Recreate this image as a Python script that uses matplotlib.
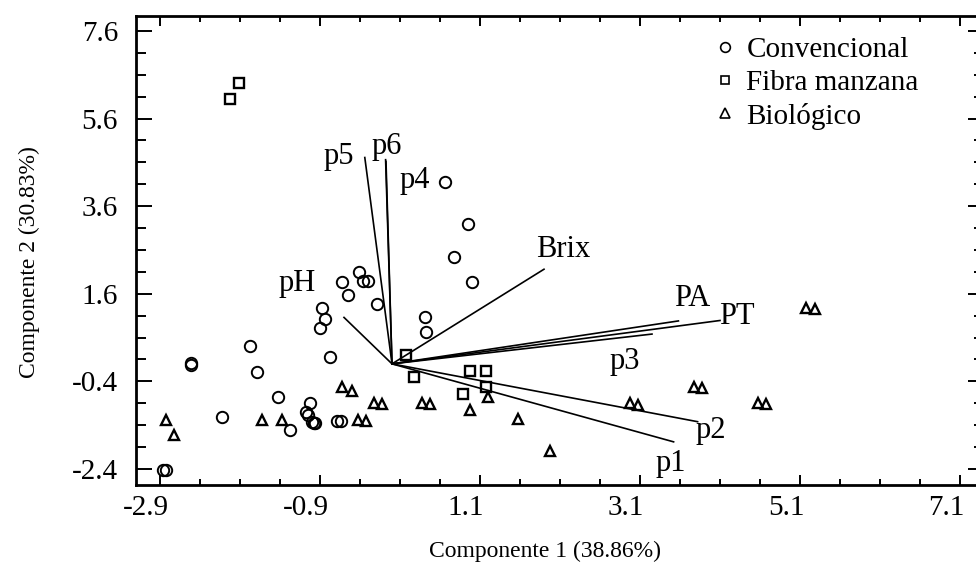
import matplotlib
matplotlib.use("Agg")
import matplotlib.pyplot as plt
import matplotlib.transforms as mtransforms
from matplotlib.lines import Line2D
import numpy as np

plt.rcParams['font.family'] = ['Liberation Serif', 'DejaVu Serif']
plt.rcParams['axes.unicode_minus'] = False

# Puntuaciones de las muestras (Componente 1, Componente 2)
conv_x = [0.66, 0.95, 0.78, 1.00, -0.41, -0.62, -0.36, -0.30, -0.55, -0.19,
          -0.87, -0.84, -0.90, 0.41, 0.43, -0.78, -1.78, -2.51, -2.51, -1.69,
          -1.42, -2.12, -1.03, -1.07, -1.05, -1.00, -0.98, -0.96, -1.28,
          -0.69, -0.64, -2.86, -2.82]
conv_y = [4.16, 3.19, 2.45, 1.86, 2.10, 1.86, 1.90, 1.90, 1.57, 1.37,
          1.27, 1.02, 0.81, 1.06, 0.73, 0.15, 0.40, 0.02, -0.03, -0.19,
          -0.76, -1.22, -0.89, -1.09, -1.17, -1.32, -1.36, -1.34, -1.52,
          -1.30, -1.30, -2.42, -2.42]

fibra_x = [-2.02, -1.91, 0.18, 0.27, 0.98, 1.18, 1.18, 0.89]
fibra_y = [6.05, 6.41, 0.20, -0.31, -0.16, -0.16, -0.52, -0.69]

bio_x = [-2.82, -2.73, -1.62, -1.37, -0.62, -0.50, -0.43, -0.32, -0.22, -0.12,
         0.37, 0.48, 0.97, 1.20, 1.58, 1.98, 2.97, 3.08, 3.77, 3.88,
         4.57, 4.68, 5.17, 5.29]
bio_y = [-1.27, -1.62, -1.27, -1.27, -0.52, -0.61, -1.27, -1.30, -0.90, -0.92,
         -0.90, -0.92, -1.05, -0.75, -1.26, -1.99, -0.90, -0.94, -0.53, -0.56,
         -0.90, -0.92, 1.28, 1.25]

# Cargas de las variables (extremo de cada vector) y posicion de su etiqueta
var_names = ['pH', 'p5', 'p6', 'p4', 'Brix', 'PA', 'PT', 'p3', 'p2', 'p1']
var_x = [-0.60, -0.34, -0.08, -0.075, 1.90, 3.58, 4.10, 3.25, 3.82, 3.52]
var_y = [1.06, 4.71, 4.66, 4.62, 2.16, 0.98, 0.99, 0.68, -1.32, -1.78]
lab_x = [-1.19, -0.67, -0.07, 0.29, 2.14, 3.75, 4.31, 2.91, 3.98, 3.48]
lab_y = [1.84, 4.73, 4.96, 4.18, 2.60, 1.50, 1.08, 0.05, -1.51, -2.27]

fig = plt.figure(figsize=(9.76, 5.72), dpi=100)
ax = fig.add_axes([136 / 976, 1 - 485 / 572, 848 / 976, 469 / 572])

for vx, vy in zip(var_x, var_y):
    ax.plot([0, vx], [0, vy], color='black', lw=1.2, zorder=2)
for name, tx, ty in zip(var_names, lab_x, lab_y):
    ax.text(tx, ty, name, fontsize=22, ha='center', va='center')

ax.plot(conv_x, conv_y, 'o', ms=8.2, mfc='none', mec='black', mew=1.4, zorder=3)
ax.plot(fibra_x, fibra_y, 's', ms=7.0, mfc='none', mec='black', mew=1.7, zorder=3)
ax.plot(bio_x, bio_y, '^', ms=7.4, mfc='none', mec='black', mew=1.7, zorder=3)

ax.set_xlim(-3.2, 7.4)
ax.set_ylim(-2.765, 7.94)

ax.set_xticks(np.arange(-2.9, 7.2, 2.0))
ax.set_xticks(np.arange(-2.9, 7.2, 0.5), minor=True)
ax.set_yticks(np.arange(-2.4, 7.7, 2.0))
ax.set_yticks(np.arange(-2.4, 7.7, 0.5), minor=True)
ax.set_xticklabels(['%.1f' % v for v in np.arange(-2.9, 7.2, 2.0)])
ax.set_yticklabels(['%.1f' % v for v in np.arange(-2.4, 7.7, 2.0)])

ax.tick_params(axis='both', which='both', direction='in', top=True, right=True,
               width=1.4, labelsize=21)
ax.tick_params(axis='x', which='major', length=7.2, pad=7)
ax.tick_params(axis='x', which='minor', length=4.3)
ax.tick_params(axis='y', which='major', length=11.5, pad=13)
ax.tick_params(axis='y', which='minor', length=7.2)

# etiquetas del eje X desplazadas a la izquierda de su marca
shift = mtransforms.ScaledTranslation(-14 / 100, 0, fig.dpi_scale_trans)
for lbl in ax.get_xticklabels():
    lbl.set_transform(lbl.get_transform() + shift)

for sp in ax.spines.values():
    sp.set_linewidth(2.0)

ax.set_xlabel('Componente 1 (38.86%)', fontsize=17)
ax.set_ylabel('Componente 2 (30.83%)', fontsize=17)
ax.xaxis.set_label_coords((545 - 136) / 848, (485 - 541) / 469)
ax.yaxis.set_label_coords((40 - 136) / 848, (485 - 262) / 469)

handles = [
    Line2D([], [], ls='none', marker='o', ms=7.0, mfc='none', mec='black', mew=1.2),
    Line2D([], [], ls='none', marker='s', ms=6.4, mfc='none', mec='black', mew=1.2),
    Line2D([], [], ls='none', marker='^', ms=6.8, mfc='none', mec='black', mew=1.2),
]
ax.legend(handles, ['Convencional', 'Fibra manzana', 'Biológico'],
          loc='upper left', bbox_to_anchor=((710 - 136) / 848, (485 - 37) / 469),
          frameon=False, fontsize=21, handlelength=1.0, handletextpad=0.25,
          borderpad=0, borderaxespad=0, labelspacing=0.22)

fig.savefig('out.png', dpi=100)
